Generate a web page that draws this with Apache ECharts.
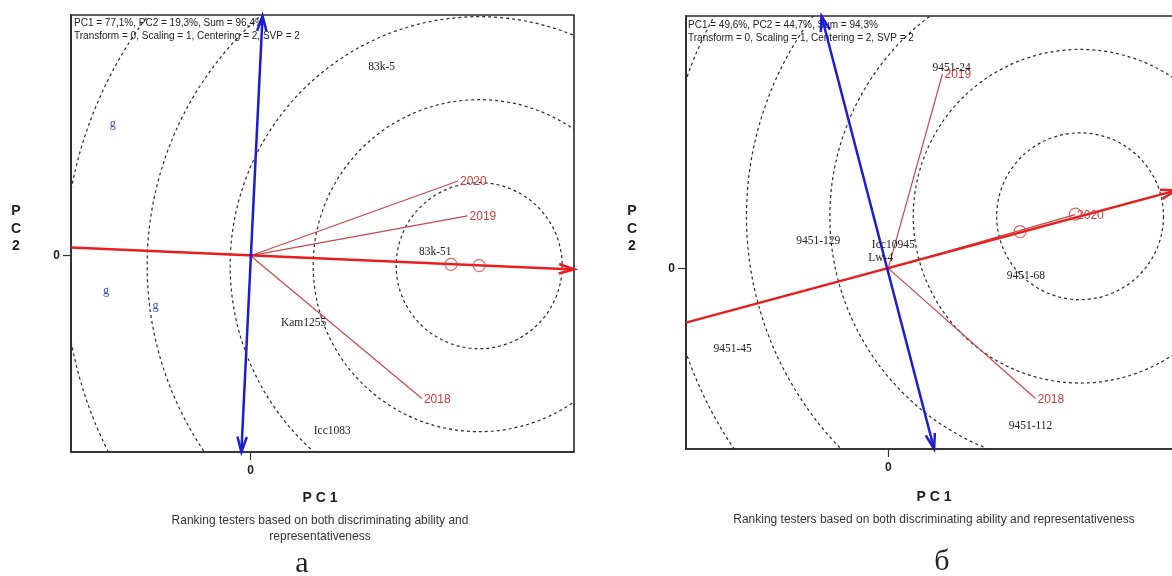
<!DOCTYPE html>
<html>
<head>
<meta charset="utf-8">
<script src="https://cdn.jsdelivr.net/npm/echarts@6/dist/echarts.min.js"></script>
<style>
html,body{margin:0;padding:0;background:#fff;}
#chart{width:1172px;height:576px;}
</style>
</head>
<body>
<div id="chart"></div>
<script>
// panel a
var envNames = ['2018', '2019', '2020'];
var envA = [[4.13, -3.44], [5.23, 0.96], [5.00, 1.80]];
var genoNamesA = ['83k-5', '83k-51', 'Kam1255', 'Icc1083'];
var genoA = [[3.16, 4.54], [4.45, 0.08], [1.28, -1.61], [1.97, -4.22]];
var gA = [[-3.32, 3.17], [-3.48, -0.84], [-2.29, -1.21]];
var aeaA = [-4.325, 0.20, 7.80, -0.33];
var atcA = [-0.22, -4.73, 0.29, 5.78];
var markA = [[4.83, -0.21], [5.51, -0.24]];
var centerA = [5.51, -0.24];
// panel б
var envB = [[3.53, -3.12], [1.30, 4.66], [4.48, 1.29]];
var genoNamesB = ['9451-24', '9451-129', 'Icc10945', 'Lw-4', '9451-68', '9451-45', '9451-112'];
var genoB = [[1.52, 4.81], [-1.68, 0.66], [0.12, 0.56], [-0.18, 0.24], [3.30, -0.18], [-3.73, -1.94], [3.41, -3.78]];
var aeaB = [-4.85, -1.30, 6.90, 1.87];
var atcB = [1.10, -4.33, -1.60, 6.05];
var markB = [[3.16, 0.88], [4.49, 1.30]];
var centerB = [4.60, 1.25];
var radii = [2, 4, 6, 8, 10];

var mychart = echarts.init(document.getElementById('chart'));

function ringData(c) {
    return radii.map(function (r) { return [c[0], c[1], r]; });
}

function renderRing(params, api) {
    var c = api.coord([api.value(0), api.value(1)]);
    var r = api.size([api.value(2), 0])[0];
    return {
        type: 'circle',
        shape: {cx: c[0], cy: c[1], r: r},
        style: {fill: 'none', stroke: '#2b2b2b', lineWidth: 1.2, lineDash: [3, 3]}
    };
}

function headPoints(tip, from, len, spread) {
    var ang = Math.atan2(tip[1] - from[1], tip[0] - from[0]);
    return [
        [tip[0] - len * Math.cos(ang - spread), tip[1] - len * Math.sin(ang - spread)],
        tip,
        [tip[0] - len * Math.cos(ang + spread), tip[1] - len * Math.sin(ang + spread)]
    ];
}

function makeArrow(color, width, both) {
    return function (params, api) {
        var a = api.coord([api.value(0), api.value(1)]);
        var b = api.coord([api.value(2), api.value(3)]);
        var st = {stroke: color, lineWidth: width, fill: 'none'};
        var kids = [
            {type: 'line', shape: {x1: a[0], y1: a[1], x2: b[0], y2: b[1]}, style: st},
            {type: 'polyline', shape: {points: headPoints(b, a, 16, 0.3)}, style: st}
        ];
        if (both) {
            kids.push({type: 'polyline', shape: {points: headPoints(a, b, 16, 0.3)}, style: st});
        }
        return {type: 'group', children: kids};
    };
}

function makeVector(names) {
    return function (params, api) {
        var o = api.coord([0, 0]);
        var p = api.coord([api.value(0), api.value(1)]);
        return {
            type: 'group',
            children: [
                {type: 'line', shape: {x1: o[0], y1: o[1], x2: p[0], y2: p[1]},
                    style: {stroke: '#c94848', lineWidth: 1.2}},
                {type: 'text', x: p[0] + 2, y: p[1] + 1,
                    style: {text: names[params.dataIndex], fill: '#cc3a3a',
                        font: '12px "Liberation Sans", Arial', align: 'left', verticalAlign: 'middle'}}
            ]
        };
    };
}

function makeText(names, color, font) {
    return function (params, api) {
        var p = api.coord([api.value(0), api.value(1)]);
        return {
            type: 'text', x: p[0], y: p[1],
            style: {text: names[params.dataIndex], fill: color, font: font,
                align: 'center', verticalAlign: 'middle'}
        };
    };
}

function axisX(idx, min, max) {
    return {
        type: 'value', gridIndex: idx, min: min, max: max,
        axisLine: {show: true, onZero: false, lineStyle: {color: '#2a2a2a', width: 1.6}},
        splitLine: {show: false},
        axisTick: {show: true, customValues: [0], length: 8, lineStyle: {color: '#333', width: 1.2}},
        axisLabel: {customValues: [0], color: '#222', fontWeight: 'bold', fontSize: 12,
            fontFamily: 'Liberation Sans', margin: 13, formatter: function () { return '0'; }}
    };
}

function axisY(idx, min, max) {
    return {
        type: 'value', gridIndex: idx, min: min, max: max,
        axisLine: {show: true, onZero: false, lineStyle: {color: '#2a2a2a', width: 1.6}},
        splitLine: {show: false},
        axisTick: {show: true, customValues: [0], length: 8, lineStyle: {color: '#333', width: 1.2}},
        axisLabel: {customValues: [0], color: '#222', fontWeight: 'bold', fontSize: 12,
            fontFamily: 'Liberation Sans', margin: 11, formatter: function () { return '0'; }}
    };
}

function panelSeries(i, center, aea, atc, env, marks, gNames, geno) {
    return [
        {type: 'custom', xAxisIndex: i, yAxisIndex: i, clip: true, renderItem: renderRing,
            data: ringData(center), silent: true, z: 1},
        {type: 'custom', xAxisIndex: i, yAxisIndex: i, renderItem: makeVector(envNames),
            data: env, silent: true, z: 3},
        {type: 'custom', xAxisIndex: i, yAxisIndex: i, renderItem: makeArrow('#e81e1e', 2.5, false),
            data: [aea], silent: true, z: 4},
        {type: 'custom', xAxisIndex: i, yAxisIndex: i, renderItem: makeArrow('#1c1cd4', 2.5, true),
            data: [atc], silent: true, z: 5},
        {type: 'scatter', xAxisIndex: i, yAxisIndex: i, data: marks, symbolSize: 12, silent: true, z: 4,
            itemStyle: {color: 'rgba(0,0,0,0)', borderColor: '#d04444', borderWidth: 1.2}},
        {type: 'custom', xAxisIndex: i, yAxisIndex: i,
            renderItem: makeText(gNames, '#222', '11.5px "Liberation Serif", serif'),
            data: geno, silent: true, z: 6}
    ];
}

var series = panelSeries(0, centerA, aeaA, atcA, envA, markA, genoNamesA, genoA)
    .concat(panelSeries(1, centerB, aeaB, atcB, envB, markB, genoNamesB, genoB));
series.push({
    type: 'custom', xAxisIndex: 0, yAxisIndex: 0,
    renderItem: makeText(['g', 'g', 'g'], '#3347cc', '12px "Liberation Serif", serif'),
    data: gA, silent: true, z: 6
});

function txt(x, y, text, font, fill, lh) {
    return {
        type: 'text', x: x, y: y, silent: true,
        style: {text: text, font: font, fill: fill || '#222', lineHeight: lh || undefined,
            align: 'center', verticalAlign: 'middle', textAlign: 'center', textVerticalAlign: 'middle'}
    };
}

function note(x, y, text) {
    return {
        type: 'text', x: x, y: y, silent: true,
        style: {text: text, font: '10px "Liberation Sans", Arial', fill: '#222', lineHeight: 12.5,
            align: 'left', verticalAlign: 'top'}
    };
}

var option = {
    animation: false,
    backgroundColor: '#fff',
    grid: [
        {left: 71, top: 15, width: 503, height: 437, show: true, borderColor: '#2a2a2a', borderWidth: 1.6,
            outerBoundsMode: 'none', containLabel: false},
        {left: 686, top: 16, width: 495, height: 433, show: true, borderColor: '#2a2a2a', borderWidth: 1.6,
            outerBoundsMode: 'none', containLabel: false}
    ],
    xAxis: [axisX(0, -4.325, 7.795), axisX(1, -4.85, 7.02)],
    yAxis: [axisY(0, -4.73, 5.80), axisY(1, -4.33, 6.05)],
    graphic: [
        note(74, 17, 'PC1 = 77,1%, PC2 = 19,3%, Sum = 96,4%\nTransform = 0, Scaling = 1, Centering = 2, SVP = 2'),
        note(688, 19, 'PC1 = 49,6%, PC2 = 44,7%, Sum = 94,3%\nTransform = 0, Scaling = 1, Centering = 2, SVP = 2'),
        txt(16, 229, 'P\nC\n2', 'bold 14px "Liberation Sans", Arial', '#222', 17.5),
        txt(632, 229, 'P\nC\n2', 'bold 14px "Liberation Sans", Arial', '#222', 17.5),
        txt(320, 498, 'P C 1', 'bold 14px "Liberation Sans", Arial'),
        txt(934, 497, 'P C 1', 'bold 14px "Liberation Sans", Arial'),
        txt(320, 529, 'Ranking testers based on both discriminating ability and\nrepresentativeness',
            '12px "Liberation Sans", Arial', '#333', 16),
        txt(934, 520, 'Ranking testers based on both discriminating ability and representativeness',
            '12px "Liberation Sans", Arial', '#333'),
        txt(302, 564, 'а', '30px "Liberation Serif", serif', '#222'),
        txt(942, 562, 'б', '30px "Liberation Serif", serif', '#222')
    ],
    series: series
};
mychart.setOption(option);
</script>
</body>
</html>
